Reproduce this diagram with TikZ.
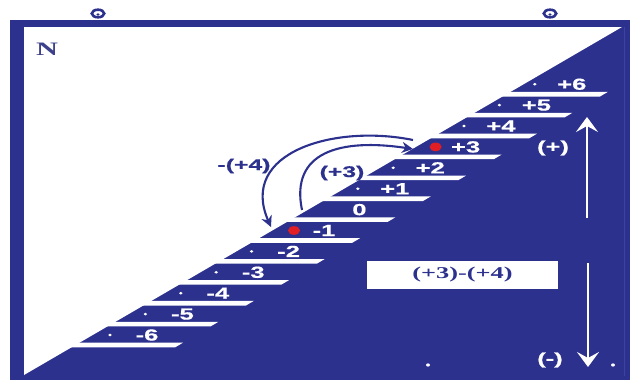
\documentclass[tikz,border=0pt]{standalone}
\usepackage{fontspec}
\setmainfont{Liberation Serif}
\setsansfont{Liberation Sans}
\newfontfamily\lblfont{Liberation Sans}[FakeStretch=1.6,FakeBold=0.6]
\newfontfamily\widserif{Liberation Serif}[FakeStretch=1.6]
\usetikzlibrary{arrows.meta}
\definecolor{navy}{RGB}{44,49,142}
\definecolor{navylight}{RGB}{60,66,160}
\definecolor{reddot}{RGB}{225,30,36}
\begin{document}
\begin{tikzpicture}[x=1pt,y=-1pt,
  lbl/.style={text=white,font=\lblfont\bfseries\fontsize{16}{16}\selectfont,inner sep=0pt},
  bluelbl/.style={text=navy,font=\lblfont\bfseries\fontsize{15.5}{15.5}\selectfont,inner sep=0pt},
  curvearrow/.style={draw=navy,line width=2.1pt,-{Stealth[length=11pt,width=11pt]}},
  vertarrow/.style={draw=white,line width=2.4pt,-{Stealth[length=15pt,width=22pt,inset=6pt]}},
  ring/.style={draw=navy,line width=2.6pt}]
\useasboundingbox (0,0) rectangle (630,380);
% frame
\fill[navy] (10,20) rectangle (630,380);
\fill[white] (24,27) -- (622,27) -- (24,375) -- cycle;
\draw[navylight,line width=0.8pt] (624.5,27) -- (624.5,376);
% hanger rings
\draw[ring] (98,13.5) ellipse (6.2 and 3.8);
\fill[navy] (98,14.5) ellipse (1.6 and 1.3);
\draw[ring] (550,13.5) ellipse (6.2 and 3.8);
\fill[navy] (550,14.5) ellipse (1.6 and 1.3);
% N
\node[text=navy!80!gray,font=\widserif\bfseries\fontsize{19}{19}\selectfont,inner sep=0pt] (N) at (47,49) {N};
% steps
\foreach \i/\t in {0/-6,1/-5,2/-4,3/-3,4/-2,5/-1,6/0,7/+1,8/+2,9/+3,10/+4,11/+5,12/+6}{
  \pgfmathsetmacro{\y}{345-20.9*\i}
  \pgfmathsetmacro{\xr}{183+35.4*\i}
  \pgfmathsetmacro{\xl}{24+(375-\y)*1.718-8}
  \fill[white] (\xl,{\y-2.3}) -- (\xr,{\y-2.3}) -- ({\xr-7.8},{\y+2.3}) -- (\xl,{\y+2.3}) -- cycle;
  \node[lbl] (n\i) at ({\xr-36},{\y-10}) {\t};
}
% small dots
\foreach \i in {0,1,2,3,4,7,8,10,11,12}{
  \pgfmathsetmacro{\y}{345-20.9*\i}
  \pgfmathsetmacro{\xr}{183+35.4*\i}
  \fill[white] ({\xr-73},{\y-10}) ellipse (1.8 and 1.4);
}
% red dots
\fill[reddot] ({183+35.4*5-66},{345-20.9*5-10}) ellipse (6 and 4.3);
\fill[reddot] ({183+35.4*9-66},{345-20.9*9-10}) ellipse (6 and 4.3);
% curved arrows
\coordinate (oa) at (413,140);
\coordinate (ob) at (271,227);
\coordinate (ia) at (302,210);
\coordinate (ib) at (413,149);
\draw[curvearrow] (oa) .. controls (335,124) and (238,152) .. (ob);
\draw[curvearrow] (ia) .. controls (290,152) and (340,138) .. (ib);
\node[bluelbl] (m4) at (244,166) {-(+4)};
\node[bluelbl] (p3) at (342,173) {(+3)};
% box
\node[fill=white,minimum width=191pt,minimum height=28pt,inner sep=0pt,
      text=navy,font=\widserif\bfseries\fontsize{16.5}{16.5}\selectfont] (box) at (462.5,275) {(+3)-(+4)};
% vertical arrows
\coordinate (ua) at (587,218);
\coordinate (ub) at (587,117);
\coordinate (da) at (588,263);
\coordinate (db) at (588,367);
\draw[vertarrow] (ua) -- (ub);
\draw[vertarrow] (da) -- (db);
\node[lbl] (plus) at (553,148) {(+)};
\node[lbl] (minus) at (550,360) {(-)};
\fill[white] (428,365) ellipse (2 and 1.6);
\fill[white] (613,365) ellipse (2 and 1.6);
\end{tikzpicture}
\end{document}
